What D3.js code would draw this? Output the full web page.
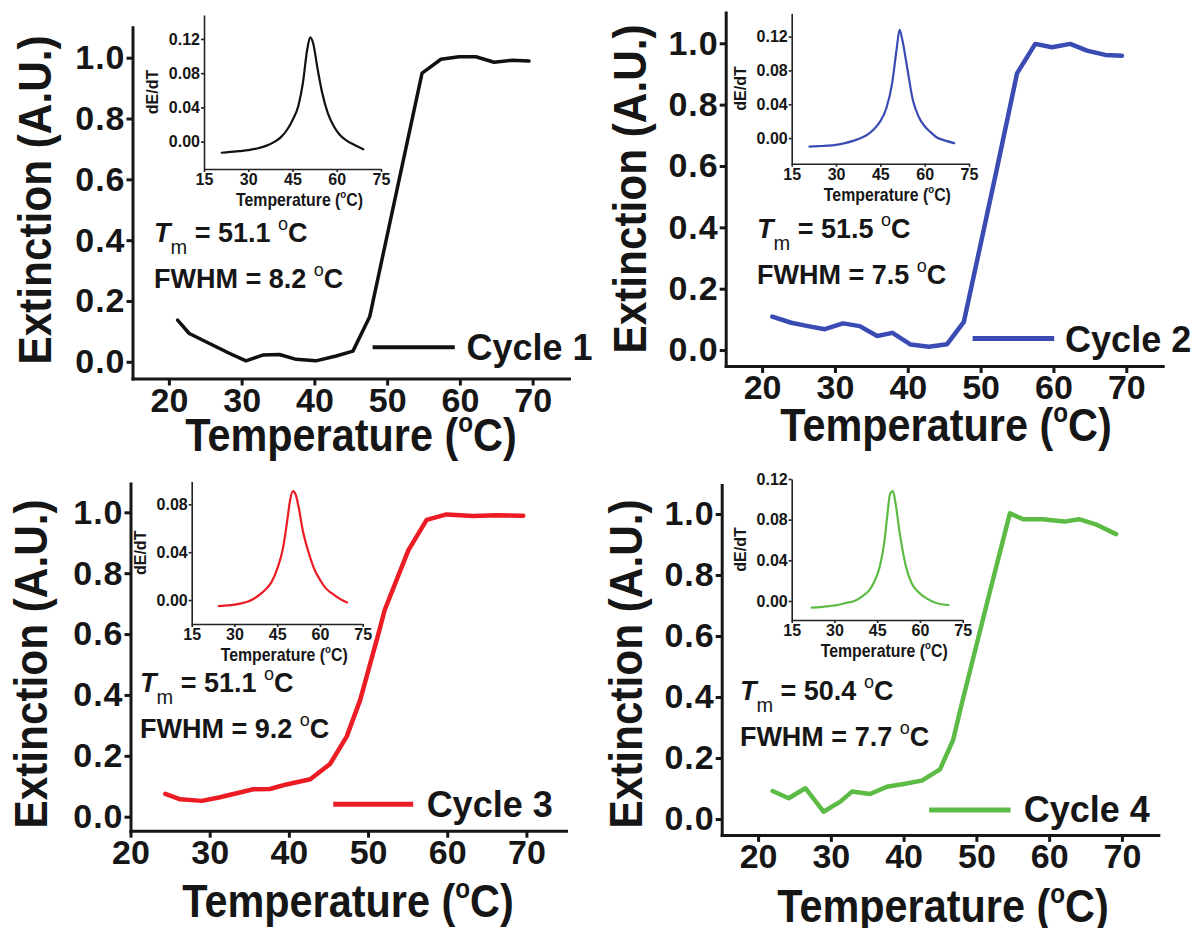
<!DOCTYPE html>
<html>
<head>
<meta charset="utf-8">
<script src="https://cdn.jsdelivr.net/npm/d3@7"></script>
<style>
	body { margin: 0; background: #fff; }
	text { font-family: "Liberation Sans", Arial, Helvetica, sans-serif; fill: #161616; }
</style>
</head>
<body>
<script>
;(function() {

	// ---- data ----
	var cycleNames = ["Cycle 1", "Cycle 2", "Cycle 3", "Cycle 4"];
	var tmLabels = ["51.1", "51.5", "51.1", "50.4"];
	var fwhmLabels = ["8.2", "7.5", "9.2", "7.7"];

	var mainYTicks = [0, 0.2, 0.4, 0.6, 0.8, 1.0];
	var mainXTicks = [20, 30, 40, 50, 60, 70];
	var insetXTicks = [15, 30, 45, 60, 75];
	var insetYTicks = [0, 0.04, 0.08, 0.12];
	var insetYTicksCycle3 = [0, 0.04, 0.08];

	// extinction vs temperature
	var temp1 = [21.2, 22.8, 26.0, 28.3, 30.6, 32.9, 35.2, 37.5, 40.2, 43.0, 45.3, 47.6, 54.8, 55.7, 57.4, 59.9, 62.2, 64.7, 67.2, 69.5];
	var ext1  = [0.137, 0.093, 0.055, 0.028, 0.003, 0.022, 0.024, 0.008, 0.003, 0.019, 0.035, 0.148, 0.949, 0.965, 0.995, 1.003, 1.003, 0.985, 0.992, 0.989];

	var temp2 = [21.4, 24.0, 26.3, 28.6, 31.1, 33.4, 35.8, 37.9, 40.4, 42.9, 45.4, 47.7, 52.3, 55.0, 57.5, 59.8, 62.3, 64.6, 67.1, 69.4];
	var ext2  = [0.109, 0.089, 0.078, 0.068, 0.087, 0.078, 0.046, 0.056, 0.018, 0.011, 0.019, 0.092, 0.598, 0.902, 0.998, 0.987, 0.998, 0.976, 0.962, 0.959];

	var temp3 = [24.4, 26.3, 29.0, 31.3, 33.4, 35.5, 37.6, 39.7, 42.7, 45.2, 47.3, 49.0, 51.3, 52.1, 55.1, 57.4, 59.9, 63.3, 66.2, 69.6];
	var ext3  = [0.075, 0.057, 0.052, 0.064, 0.077, 0.090, 0.091, 0.106, 0.123, 0.173, 0.263, 0.383, 0.600, 0.679, 0.876, 0.975, 0.993, 0.988, 0.990, 0.989];

	var temp4 = [22.0, 24.2, 26.5, 29.0, 31.3, 32.9, 35.4, 37.7, 40.0, 42.5, 45.0, 46.8, 48.0, 51.8, 54.6, 56.4, 59.1, 62.1, 64.1, 66.6, 69.2];
	var ext4  = [0.092, 0.068, 0.101, 0.024, 0.057, 0.090, 0.082, 0.106, 0.115, 0.126, 0.163, 0.259, 0.379, 0.740, 1.002, 0.983, 0.983, 0.975, 0.983, 0.964, 0.934];

	// inset: dE/dT vs temperature
	var dTemp1 = [21, 24, 27, 30, 33, 36, 39, 41, 43, 45, 47, 48.5, 50, 51, 52, 53.5, 55, 57, 59, 61, 63, 66, 69];
	var dEdT1  = [-0.013, -0.012, -0.011, -0.010, -0.008, -0.005, 0.000, 0.005, 0.013, 0.025, 0.042, 0.068, 0.108, 0.122, 0.115, 0.085, 0.058, 0.033, 0.018, 0.008, 0.002, -0.004, -0.009];

	var dTemp2 = [21, 24, 27, 30, 33, 36, 39, 41, 43, 45, 47, 49, 50.5, 51.5, 52.5, 54, 56, 58, 60, 62, 64, 67, 70];
	var dEdT2  = [-0.010, -0.0095, -0.009, -0.008, -0.006, -0.003, 0.001, 0.005, 0.011, 0.020, 0.035, 0.065, 0.105, 0.128, 0.115, 0.085, 0.045, 0.025, 0.014, 0.007, 0.001, -0.003, -0.006];

	var dTemp3 = [24.5, 28, 32, 35, 38, 41, 43, 45, 47, 48.5, 49.5, 50.5, 51.5, 52.5, 54, 56, 58, 60, 62, 64, 67, 69.5];
	var dEdT3  = [-0.005, -0.0045, -0.003, -0.001, 0.003, 0.009, 0.015, 0.026, 0.043, 0.066, 0.083, 0.091, 0.088, 0.078, 0.058, 0.040, 0.026, 0.017, 0.010, 0.006, 0.001, -0.002];

	var dTemp4 = [22, 25, 28, 31, 34, 37, 40, 42, 44, 46, 47.5, 48.5, 49.5, 50.5, 51.5, 53, 55, 57, 59, 61, 64, 67, 70];
	var dEdT4  = [-0.0065, -0.006, -0.005, -0.004, -0.002, 0.000, 0.005, 0.010, 0.019, 0.035, 0.058, 0.083, 0.105, 0.108, 0.095, 0.065, 0.035, 0.018, 0.010, 0.005, 0.000, -0.003, -0.004];

	// ---- layout / style ----
	var width = 1199;
	var height = 928;
	var lineColors = ["#111111", "#3a4cb4", "#ec1c24", "#5cbb45"];
	var lineWidths = [3.5, 4.5, 4.5, 4.5];

	var mainBoxes = [
		{ left: 132.5, right: 569,   top: 27.3,  bottom: 378.5, xMin: 15, yMin: -0.055, yMax: 1.1 },
		{ left: 725.7, right: 1162.7, top: 12.6, bottom: 366,   xMin: 15, yMin: -0.052, yMax: 1.1 },
		{ left: 130.5, right: 566,   top: 483.4, bottom: 830.7, xMin: 20, yMin: -0.046, yMax: 1.095 },
		{ left: 721.7, right: 1158.3, top: 485,  bottom: 834.9, xMin: 15, yMin: -0.052, yMax: 1.095 }
	];
	var insetBoxes = [
		{ left: 204,   right: 381,   top: 15,    bottom: 169,   yMin: -0.032, yMax: 0.148 },
		{ left: 791.7, right: 969,   top: 13.3,  bottom: 163.7, yMin: -0.0303, yMax: 0.1476 },
		{ left: 191.7, right: 362.7, top: 481.6, bottom: 624,   yMin: -0.02,  yMax: 0.099 },
		{ left: 791.7, right: 962.7, top: 479,   bottom: 620,   yMin: -0.0187, yMax: 0.12 }
	];
	// title positions (pixels)
	var yTitlePos = [[51, 200], [646, 189], [47, 664], [642, 664]];
	var xTitlePos = [[351, 451], [946, 441], [348, 917], [943, 922]];
	// annotation / legend anchors (data units)
	var annoPos = [[17.95, 0.395, 0.242], [19.3, 0.364, 0.215], [21.2, 0.41, 0.258], [17.5, 0.39, 0.239]];
	var legendPos = [[48.0, 59.3, 0.048, 60.9, 0.006], [48.9, 60.1, 0.038, 61.6, -0.006],
		[45.6, 55.7, 0.041, 57.4, 0.0], [43.5, 54.7, 0.030, 56.5, -0.009]];

	var mainSeries = [[temp1, ext1], [temp2, ext2], [temp3, ext3], [temp4, ext4]];
	var insetSeries = [[dTemp1, dEdT1], [dTemp2, dEdT2], [dTemp3, dEdT3], [dTemp4, dEdT4]];

	var svg;

	init();

	function init() {
		svg = d3.select("body").append("svg")
			.attr("width", width)
			.attr("height", height);

		for (var i = 0; i < 4; i++) {
			drawMain(i);
			drawInset(i);
		}
	}

	function zip(a, b) {
		return a.map(function(v, k) { return [v, b[k]]; });
	}

	function drawMain(i) {
		var box = mainBoxes[i];
		var g = svg.append("g").attr("class", "panel panel-" + (i + 1));

		var xScale = d3.scaleLinear()
			.domain([box.xMin, 75])
			.range([box.left, box.right]);
		var yScale = d3.scaleLinear()
			.domain([box.yMin, box.yMax])
			.range([box.bottom, box.top]);

		var yAxis = d3.axisLeft(yScale)
			.tickValues(mainYTicks)
			.tickFormat(d3.format(".1f"))
			.tickSize(6)
			.tickPadding(1)
			.tickSizeOuter(0);
		var xAxis = d3.axisBottom(xScale)
			.tickValues(mainXTicks)
			.tickFormat(d3.format("d"))
			.tickSize(7)
			.tickPadding(2)
			.tickSizeOuter(0);

		var ya = g.append("g")
			.attr("transform", "translate(" + box.left + ",0)")
			.call(yAxis);
		var xa = g.append("g")
			.attr("transform", "translate(0," + box.bottom + ")")
			.call(xAxis);

		[ya, xa].forEach(function(a) {
			a.select(".domain").attr("stroke", "#161616").attr("stroke-width", 3).attr("stroke-linecap", "square");
			a.selectAll(".tick line").attr("stroke", "#161616").attr("stroke-width", 3);
			a.selectAll(".tick text")
				.attr("fill", "#161616")
				.style("font-size", "34px")
				.style("font-weight", "bold");
		});
		ya.selectAll(".tick text").style("letter-spacing", "1px");

		// curve
		var line = d3.line()
			.x(function(d) { return xScale(d[0]); })
			.y(function(d) { return yScale(d[1]); });

		g.append("path")
			.datum(zip(mainSeries[i][0], mainSeries[i][1]))
			.attr("d", line)
			.attr("fill", "none")
			.attr("stroke", lineColors[i])
			.attr("stroke-width", lineWidths[i])
			.attr("stroke-linejoin", "round")
			.attr("stroke-linecap", "round");

		// legend
		var lp = legendPos[i];
		g.append("line")
			.attr("x1", xScale(lp[0])).attr("x2", xScale(lp[1]))
			.attr("y1", yScale(lp[2])).attr("y2", yScale(lp[2]))
			.attr("stroke", lineColors[i])
			.attr("stroke-width", lineWidths[i] + 0.5);
		g.append("text")
			.attr("x", xScale(lp[3]))
			.attr("y", yScale(lp[4]))
			.style("font-size", "36px")
			.style("font-weight", "bold")
			.text(cycleNames[i]);

		// Tm / FWHM
		var ap = annoPos[i];
		var t1 = g.append("text")
			.attr("x", xScale(ap[0]))
			.attr("y", yScale(ap[1]))
			.style("font-size", "27px")
			.style("font-weight", "bold");
		t1.append("tspan").style("font-style", "italic").text("T");
		t1.append("tspan").attr("dy", 12).style("font-size", "20px").style("font-weight", "normal").text("m");
		t1.append("tspan").attr("dy", -12).text(" = " + tmLabels[i] + " ");
		t1.append("tspan").attr("dy", -12).style("font-size", "18px").style("font-weight", "normal").text("o");
		t1.append("tspan").attr("dy", 12).text("C");

		var t2 = g.append("text")
			.attr("x", xScale(ap[0]))
			.attr("y", yScale(ap[2]))
			.style("font-size", "27px")
			.style("font-weight", "bold");
		t2.append("tspan").text("FWHM = " + fwhmLabels[i] + " ");
		t2.append("tspan").attr("dy", -12).style("font-size", "18px").style("font-weight", "normal").text("o");
		t2.append("tspan").attr("dy", 12).text("C");

		// axis titles
		var yp = yTitlePos[i];
		g.append("text")
			.attr("transform", "translate(" + yp[0] + "," + yp[1] + ") rotate(-90) scale(0.92,1)")
			.attr("text-anchor", "middle")
			.style("font-size", "46px")
			.style("font-weight", "bold")
			.text("Extinction (A.U.)");

		var xp = xTitlePos[i];
		var xt = g.append("text")
			.attr("transform", "translate(" + xp[0] + "," + xp[1] + ") scale(0.9,1)")
			.attr("text-anchor", "middle")
			.style("font-size", "46px")
			.style("font-weight", "bold");
		xt.append("tspan").text("Temperature (");
		xt.append("tspan").attr("dy", -19).style("font-size", "27px").text("o");
		xt.append("tspan").attr("dy", 19).text("C)");
	}

	function drawInset(i) {
		var box = insetBoxes[i];
		var g = svg.append("g").attr("class", "inset inset-" + (i + 1));

		var xScale = d3.scaleLinear()
			.domain([15, 75])
			.range([box.left, box.right]);
		var yScale = d3.scaleLinear()
			.domain([box.yMin, box.yMax])
			.range([box.bottom, box.top]);

		var yAxis = d3.axisLeft(yScale)
			.tickValues(i == 2 ? insetYTicksCycle3 : insetYTicks)
			.tickFormat(d3.format(".2f"))
			.tickSize(3)
			.tickPadding(1)
			.tickSizeOuter(0);
		var xAxis = d3.axisBottom(xScale)
			.tickValues(insetXTicks)
			.tickFormat(d3.format("d"))
			.tickSize(3)
			.tickPadding(2)
			.tickSizeOuter(0);

		var ya = g.append("g")
			.attr("transform", "translate(" + box.left + ",0)")
			.call(yAxis);
		var xa = g.append("g")
			.attr("transform", "translate(0," + box.bottom + ")")
			.call(xAxis);

		[ya, xa].forEach(function(a) {
			a.select(".domain").attr("stroke", "#222").attr("stroke-width", 1.6);
			a.selectAll(".tick line").attr("stroke", "#222").attr("stroke-width", 1.6);
			a.selectAll(".tick text")
				.attr("fill", "#161616")
				.style("font-size", "16px")
				.style("font-weight", "bold");
		});

		var line = d3.line()
			.curve(d3.curveMonotoneX)
			.x(function(d) { return xScale(d[0]); })
			.y(function(d) { return yScale(d[1]); });

		g.append("path")
			.datum(zip(insetSeries[i][0], insetSeries[i][1]))
			.attr("d", line)
			.attr("fill", "none")
			.attr("stroke", lineColors[i])
			.attr("stroke-width", 2.2)
			.attr("stroke-linejoin", "round")
			.attr("stroke-linecap", "round");

		// inset titles
		g.append("text")
			.attr("transform", "translate(" + (box.left - 46) + "," + ((box.top + box.bottom) / 2) + ") rotate(-90)")
			.attr("text-anchor", "middle")
			.style("font-size", "16px")
			.style("font-weight", "bold")
			.text("dE/dT");

		var t = g.append("text")
			.attr("transform", "translate(" + ((box.left + box.right) / 2 + 7) + "," + (box.bottom + 37) + ") scale(0.88,1)")
			.attr("text-anchor", "middle")
			.style("font-size", "18px")
			.style("font-weight", "bold");
		t.append("tspan").text("Temperature (");
		t.append("tspan").attr("dy", -8).style("font-size", "11px").text("o");
		t.append("tspan").attr("dy", 8).text("C)");
	}

})();
</script>
</body>
</html>
